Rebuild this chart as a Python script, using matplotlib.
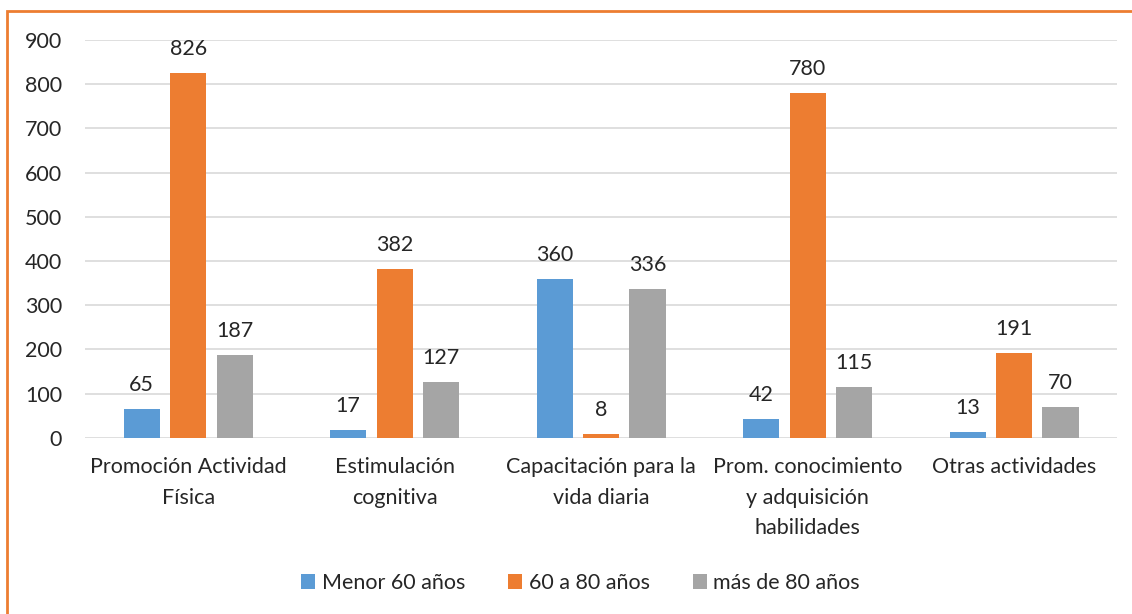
import matplotlib.pyplot as plt
import numpy as np
from matplotlib.patches import Rectangle

plt.rcParams['font.family'] = ['Lato', 'DejaVu Sans']

categories = ['Promoción Actividad\nFísica', 'Estimulación\ncognitiva',
              'Capacitación para la\nvida diaria',
              'Prom. conocimiento\ny adquisición\nhabilidades', 'Otras actividades']
series = ['Menor 60 años', '60 a 80 años', 'más de 80 años']
menor60 = [65, 17, 360, 42, 13]
de60a80 = [826, 382, 8, 780, 191]
mas80 = [187, 127, 336, 115, 70]
colors = ['#5b9bd5', '#ed7d31', '#a5a5a5']

fs = 15.5
fig = plt.figure(figsize=(11.32, 6.14), dpi=100)
ax = fig.add_axes([0.075, 0.287, 0.912, 0.648])

x = np.arange(len(categories))
width = 0.175
step = 0.225
for i, (vals, name, c) in enumerate(zip([menor60, de60a80, mas80], series, colors)):
    bars = ax.bar(x + (i - 1) * step, vals, width, color=c, label=name, zorder=3)
    for b, v in zip(bars, vals):
        ax.annotate(f'{v}', xy=(b.get_x() + b.get_width() / 2, v), xytext=(0, 10),
                    textcoords='offset points', ha='center', va='bottom',
                    fontsize=fs, color='#262626')

ax.set_xlim(-0.5, len(categories) - 0.5)
ax.set_ylim(0, 900)
ax.set_yticks(range(0, 901, 100))
ax.set_xticks(x)
ax.set_xticklabels(categories, fontsize=fs, color='#262626', linespacing=1.65)
ax.tick_params(axis='y', labelsize=fs, labelcolor='#262626', length=0, pad=16.5)
ax.tick_params(axis='x', length=0, pad=14)
ax.grid(axis='y', color='#d9d9d9', linewidth=1.2, zorder=0)
for s in ax.spines.values():
    s.set_visible(False)

ax.legend(loc='center', bbox_to_anchor=(0.48, -0.365), ncol=3, frameon=False,
          fontsize=fs, handlelength=0.65, handleheight=0.65, handletextpad=0.3,
          columnspacing=2.0, labelcolor='#262626')

fig.patches.append(Rectangle((7 / 1132, -0.1), 1.2, 1 - 11 / 614 + 0.1,
                             transform=fig.transFigure, fill=False,
                             edgecolor='#ed7d31', linewidth=2, zorder=0))

fig.savefig('out.png', dpi=100)
